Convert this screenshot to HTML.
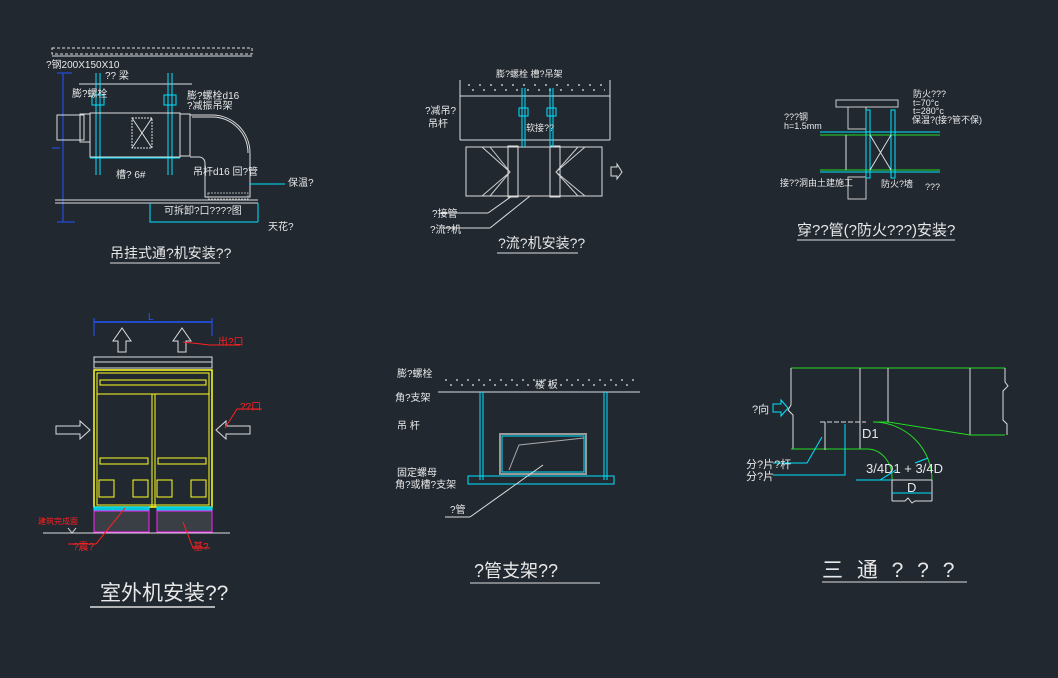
<!DOCTYPE html>
<html><head><meta charset="utf-8"><style>
html,body{margin:0;padding:0;background:#212830;}
svg{display:block}
text{font-family:"Liberation Sans","Noto Sans CJK SC",sans-serif;}
</style></head><body>
<svg width="1058" height="678" viewBox="0 0 1058 678" xmlns="http://www.w3.org/2000/svg">
<rect width="1058" height="678" fill="#212830"/>
<g fill="none" stroke-width="1">
<!-- ===== Panel 1 ===== -->
<rect x="52" y="48" width="200" height="6" stroke="#ddd" stroke-dasharray="3 2"/>
<line x1="52" y1="56" x2="252" y2="56" stroke="#ddd"/>
<line x1="63" y1="73" x2="63" y2="222" stroke="#2255ff"/>
<line x1="57" y1="73" x2="72" y2="73" stroke="#2255ff"/>
<line x1="57" y1="222" x2="75" y2="222" stroke="#2255ff"/>
<line x1="52" y1="148" x2="60" y2="148" stroke="#2255ff"/>
<line x1="79" y1="84" x2="192" y2="84" stroke="#ddd"/>
<line x1="96" y1="73" x2="96" y2="175" stroke="#00e5ff"/><line x1="100" y1="73" x2="100" y2="175" stroke="#00e5ff"/>
<line x1="168" y1="73" x2="168" y2="175" stroke="#00e5ff"/><line x1="172" y1="73" x2="172" y2="175" stroke="#00e5ff"/>
<rect x="92" y="95" width="12" height="10" stroke="#00e5ff"/><rect x="164" y="95" width="12" height="10" stroke="#00e5ff"/>
<line x1="90" y1="158" x2="180" y2="158" stroke="#00e5ff"/>
<rect x="90" y="113" width="90" height="44" stroke="#ddd"/>
<rect x="132" y="118" width="20" height="30" stroke="#ddd" stroke-dasharray="2 1"/>
<line x1="132" y1="118" x2="152" y2="148" stroke="#ddd"/><line x1="152" y1="118" x2="132" y2="148" stroke="#ddd"/>
<rect x="57" y="115" width="27" height="25" stroke="#ddd"/>
<rect x="80" y="114" width="10" height="28" stroke="#ddd"/>
<rect x="180" y="114" width="10" height="42" stroke="#ddd"/>
<path d="M190 115 H212 A38 38 0 0 1 250 153 V197 H205 V163 A6 6 0 0 0 199 157 H190" stroke="#ddd"/>
<path d="M192 117 H212 A36 36 0 0 1 248 153" stroke="#ddd"/>
<rect x="208" y="193" width="40" height="6" stroke="#aaa" stroke-dasharray="2 1"/>
<line x1="55" y1="200" x2="258" y2="200" stroke="#ddd"/><line x1="55" y1="203" x2="258" y2="203" stroke="#ddd"/>
<polyline points="150,203 150,222 258,222" stroke="#00e5ff"/><line x1="258" y1="203" x2="258" y2="222" stroke="#00e5ff"/>
<line x1="250" y1="184" x2="285" y2="184" stroke="#00e5ff"/>
<line x1="110" y1="263" x2="220" y2="263" stroke="#ddd"/>
<!-- ===== Panel 2 ===== -->
<line x1="460" y1="96" x2="610" y2="96" stroke="#ddd"/>
<line x1="460" y1="140" x2="610" y2="140" stroke="#ddd"/>
<line x1="460" y1="80" x2="460" y2="140" stroke="#ddd"/><line x1="610" y1="80" x2="610" y2="140" stroke="#ddd"/>
<g stroke="#ddd" stroke-dasharray="2 9" stroke-width="1.2"><line x1="468" y1="85" x2="605" y2="85"/><line x1="472" y1="90" x2="605" y2="90"/>
<line x1="445" y1="380" x2="635" y2="380"/><line x1="450" y1="385" x2="635" y2="385"/></g>
<rect x="466" y="147" width="136" height="49" stroke="#ddd"/>
<path d="M482 147 L510 172 L482 196 M490 147 L510 172 L490 196 M585 147 L556 172 L585 196 M578 147 L556 172 L578 196" stroke="#ccc"/>
<rect x="508" y="146" width="10" height="51" stroke="#ddd"/><rect x="550" y="146" width="10" height="51" stroke="#ddd"/>
<line x1="518" y1="147" x2="550" y2="147" stroke="#ddd"/><line x1="518" y1="196" x2="550" y2="196" stroke="#ddd"/>
<line x1="522" y1="88" x2="522" y2="147" stroke="#00e5ff"/><line x1="525" y1="88" x2="525" y2="147" stroke="#00e5ff"/>
<line x1="550" y1="88" x2="550" y2="147" stroke="#00e5ff"/><line x1="553" y1="88" x2="553" y2="147" stroke="#00e5ff"/>
<rect x="519" y="108" width="9" height="8" stroke="#00e5ff"/><rect x="547" y="108" width="9" height="8" stroke="#00e5ff"/>
<path d="M611 167 H617 V164 L622 172 L617 179 V176 H611 Z" stroke="#ddd"/>
<line x1="440" y1="213" x2="488" y2="213" stroke="#ddd"/><line x1="488" y1="213" x2="512" y2="196" stroke="#ddd"/>
<line x1="440" y1="228" x2="490" y2="228" stroke="#ddd"/><line x1="490" y1="228" x2="530" y2="196" stroke="#ddd"/>
<line x1="497" y1="253" x2="578" y2="253" stroke="#ddd"/>
<!-- ===== Panel 3 ===== -->
<rect x="836" y="100" width="62" height="7" stroke="#ccc"/>
<rect x="848" y="107" width="18" height="22" stroke="#ccc"/>
<rect x="848" y="177" width="18" height="22" stroke="#ccc"/>
<line x1="820" y1="132" x2="940" y2="132" stroke="#00e5ff"/><line x1="820" y1="135" x2="940" y2="135" stroke="#22dd22"/>
<line x1="820" y1="170" x2="940" y2="170" stroke="#22dd22"/><line x1="820" y1="172" x2="940" y2="172" stroke="#00e5ff"/>
<rect x="866" y="110" width="4" height="68" stroke="#00e5ff"/><rect x="891" y="110" width="4" height="68" stroke="#00e5ff"/>
<line x1="870" y1="135" x2="891" y2="170" stroke="#ddd"/><line x1="891" y1="135" x2="870" y2="170" stroke="#ddd"/>
<line x1="846" y1="135" x2="846" y2="170" stroke="#ddd"/>
<line x1="797" y1="240" x2="955" y2="240" stroke="#ddd"/>
<!-- ===== Panel 4 ===== -->
<line x1="94" y1="322" x2="212" y2="322" stroke="#2255ff" stroke-width="1.5"/>
<line x1="94" y1="318" x2="94" y2="336" stroke="#2255ff"/><line x1="212" y1="318" x2="212" y2="336" stroke="#2255ff"/>
<path d="M118 352 V341 H113 L122 328 L131 341 H126 V352 Z" stroke="#ddd"/>
<path d="M178 352 V341 H173 L182 328 L191 341 H186 V352 Z" stroke="#ddd"/>
<rect x="94" y="357" width="118" height="11" stroke="#ddd"/><line x1="94" y1="362" x2="212" y2="362" stroke="#ddd"/>
<rect x="94" y="370" width="118" height="137" stroke="#ffff22" stroke-width="1.5"/>
<rect x="97" y="373" width="112" height="132" stroke="#ffff22"/>
<line x1="152" y1="394" x2="152" y2="507" stroke="#ffff22"/><line x1="155" y1="394" x2="155" y2="507" stroke="#ffff22"/>
<line x1="97" y1="394" x2="209" y2="394" stroke="#ffff22"/>
<rect x="100" y="380" width="106" height="5" stroke="#ffff22"/>
<rect x="100" y="458" width="48" height="6" stroke="#ffff22"/><rect x="158" y="458" width="48" height="6" stroke="#ffff22"/>
<rect x="99" y="480" width="15" height="17" stroke="#ffff22"/><rect x="133" y="480" width="15" height="17" stroke="#ffff22"/>
<rect x="157" y="480" width="15" height="17" stroke="#ffff22"/><rect x="191" y="480" width="15" height="17" stroke="#ffff22"/>
<path d="M56 426 H80 V421 L90 430 L80 439 V434 H56 Z" stroke="#ddd"/>
<path d="M250 426 H226 V421 L216 430 L226 439 V434 H250 Z" stroke="#ddd"/>
<rect x="94" y="507" width="55" height="4" fill="#00c8d8" stroke="#00e5ff"/><rect x="157" y="507" width="55" height="4" fill="#00c8d8" stroke="#00e5ff"/>
<rect x="94" y="511" width="55" height="21" fill="#3a3f46" stroke="#ff22ff"/><rect x="157" y="511" width="55" height="21" fill="#3a3f46" stroke="#ff22ff"/>
<line x1="43" y1="533" x2="230" y2="533" stroke="#ddd"/>
<path d="M68 528 L72 533 L76 528" stroke="#ddd"/>
<polyline points="183,342 210,345 240,345" stroke="#ff2020"/>
<polyline points="225,428 237,409 262,409" stroke="#ff2020"/>
<polyline points="68,544 96,544 125,508" stroke="#ff2020"/>
<polyline points="183,522 193,548 210,548" stroke="#ff2020"/>
<line x1="90" y1="607" x2="215" y2="607" stroke="#ddd" stroke-width="1.5"/>
<!-- ===== Panel 5 ===== -->
<line x1="438" y1="392" x2="640" y2="392" stroke="#ddd"/>
<line x1="480" y1="392" x2="480" y2="480" stroke="#00e5ff"/><line x1="483" y1="392" x2="483" y2="480" stroke="#00e5ff"/>
<line x1="604" y1="392" x2="604" y2="480" stroke="#00e5ff"/><line x1="607" y1="392" x2="607" y2="480" stroke="#00e5ff"/>
<rect x="500" y="434" width="86" height="40" stroke="#999" stroke-width="2"/>
<rect x="502" y="436" width="82" height="36" stroke="#00e5ff"/>
<polyline points="509,470 519,445 584,438" stroke="#aaa"/>
<rect x="468" y="476" width="146" height="8" stroke="#00e5ff"/>
<line x1="445" y1="517" x2="470" y2="517" stroke="#ddd"/><line x1="470" y1="517" x2="543" y2="465" stroke="#ddd"/>
<line x1="470" y1="583" x2="600" y2="583" stroke="#ddd"/>
<!-- ===== Panel 6 ===== -->
<line x1="791" y1="368" x2="1005" y2="368" stroke="#22dd22"/>
<path d="M791 368 V405 L788 410 L793 415 V449" stroke="#ddd"/>
<path d="M1005 368 V382 L1008 386 L1003 391 V420 L1007 424 V435" stroke="#ddd"/>
<line x1="860" y1="368" x2="860" y2="449" stroke="#ddd"/>
<line x1="888" y1="368" x2="888" y2="422" stroke="#ddd"/>
<line x1="970" y1="368" x2="970" y2="435" stroke="#ddd"/>
<polyline points="873,422 888,422 970,435 1005,435" stroke="#22dd22"/>
<line x1="791" y1="449" x2="867" y2="449" stroke="#22dd22"/>
<path d="M867 449 A25 28 0 0 1 892 477 V480" stroke="#22dd22"/>
<path d="M873 422 A59 58 0 0 1 932 480" stroke="#22dd22"/>
<line x1="892" y1="480" x2="932" y2="480" stroke="#ddd"/>
<line x1="892" y1="480" x2="892" y2="501" stroke="#ddd"/><line x1="932" y1="480" x2="932" y2="501" stroke="#ddd"/>
<path d="M892 501 H905 L908 498 L912 503 L915 501 H932" stroke="#ddd"/>
<line x1="892" y1="493" x2="932" y2="493" stroke="#00e5ff"/>
<line x1="856" y1="480" x2="892" y2="480" stroke="#00e5ff"/>
<line x1="820" y1="422" x2="866" y2="422" stroke="#ddd" stroke-dasharray="5 2"/>
<line x1="825" y1="422" x2="825" y2="450" stroke="#ddd"/>
<polyline points="773,463 807,463 822,437" stroke="#00e5ff"/>
<polyline points="773,475 845,475 845,424" stroke="#00e5ff"/>
<line x1="880" y1="480" x2="896" y2="470" stroke="#00e5ff"/>
<line x1="915" y1="463" x2="928" y2="458" stroke="#00e5ff"/>
<path d="M773 404 H781 V400 L788 408 L781 416 V412 H773 Z" stroke="#00e5ff"/>
<line x1="822" y1="582" x2="967" y2="582" stroke="#ddd"/>
</g>
<g fill="#e8e8e8" font-size="10">
<text x="46" y="68">?钢200X150X10</text>
<text x="105" y="79">??  梁</text>
<text x="72" y="97">膨?螺栓</text>
<text x="187" y="99">膨?螺栓d16</text>
<text x="187" y="109">?减振吊架</text>
<text x="116" y="178">槽?  6#</text>
<text x="193" y="175">吊杆d16   回?管</text>
<text x="288" y="186">保温?</text>
<text x="164" y="214">可拆卸?口????图</text>
<text x="268" y="230">天花?</text>
<text x="110" y="258" font-size="14">吊挂式通?机安装??</text>
<text x="496" y="77" font-size="9">膨?螺栓  槽?吊架</text>
<text x="425" y="114">?减吊?</text>
<text x="428" y="127">吊杆</text>
<text x="526" y="131" font-size="9">软接??</text>
<text x="432" y="217">?接管</text>
<text x="430" y="233">?流?机</text>
<text x="498" y="248" font-size="14">?流?机安装??</text>
<text x="913" y="97" font-size="9">防火???</text>
<text x="913" y="106" font-size="9">t=70°c</text>
<text x="913" y="114" font-size="9">t=280°c</text>
<text x="912" y="123" font-size="9">保温?(接?管不保)</text>
<text x="784" y="120" font-size="9">???钢</text>
<text x="784" y="129" font-size="9">h=1.5mm</text>
<text x="780" y="186" font-size="9">接??洞由土建施工</text>
<text x="881" y="187" font-size="9">防火?墙</text>
<text x="925" y="190" font-size="9">???</text>
<text x="797" y="235" font-size="15">穿??管(?防火???)安装?</text>
<text x="148" y="320" fill="#2255ff">L</text>
<text x="218" y="345" fill="#ff2020">出?口</text>
<text x="240" y="410" fill="#ff2020">??口</text>
<text x="38" y="524" fill="#ff2020" font-size="8">建筑完成面</text>
<text x="73" y="550" fill="#ff2020">?震?</text>
<text x="193" y="550" fill="#ff2020">基?</text>
<text x="100" y="600" font-size="21">室外机安装??</text>
<text x="397" y="377">膨?螺栓</text>
<text x="535" y="388">楼  板</text>
<text x="395" y="401">角?支架</text>
<text x="397" y="429">吊   杆</text>
<text x="397" y="476">固定螺母</text>
<text x="395" y="488">角?或槽?支架</text>
<text x="450" y="513">?管</text>
<text x="474" y="577" font-size="18">?管支架??</text>
<text x="752" y="413" font-size="11">?向</text>
<text x="862" y="438" font-size="13">D1</text>
<text x="746" y="468" font-size="11">分?片?杆</text>
<text x="746" y="480" font-size="11">分?片</text>
<text x="866" y="473" font-size="13">3/4D1 + 3/4D</text>
<text x="907" y="492" font-size="13">D</text>
<text x="822" y="577" font-size="21" letter-spacing="4">三 通 ? ? ?</text>
</g>
</svg>
</body></html>
